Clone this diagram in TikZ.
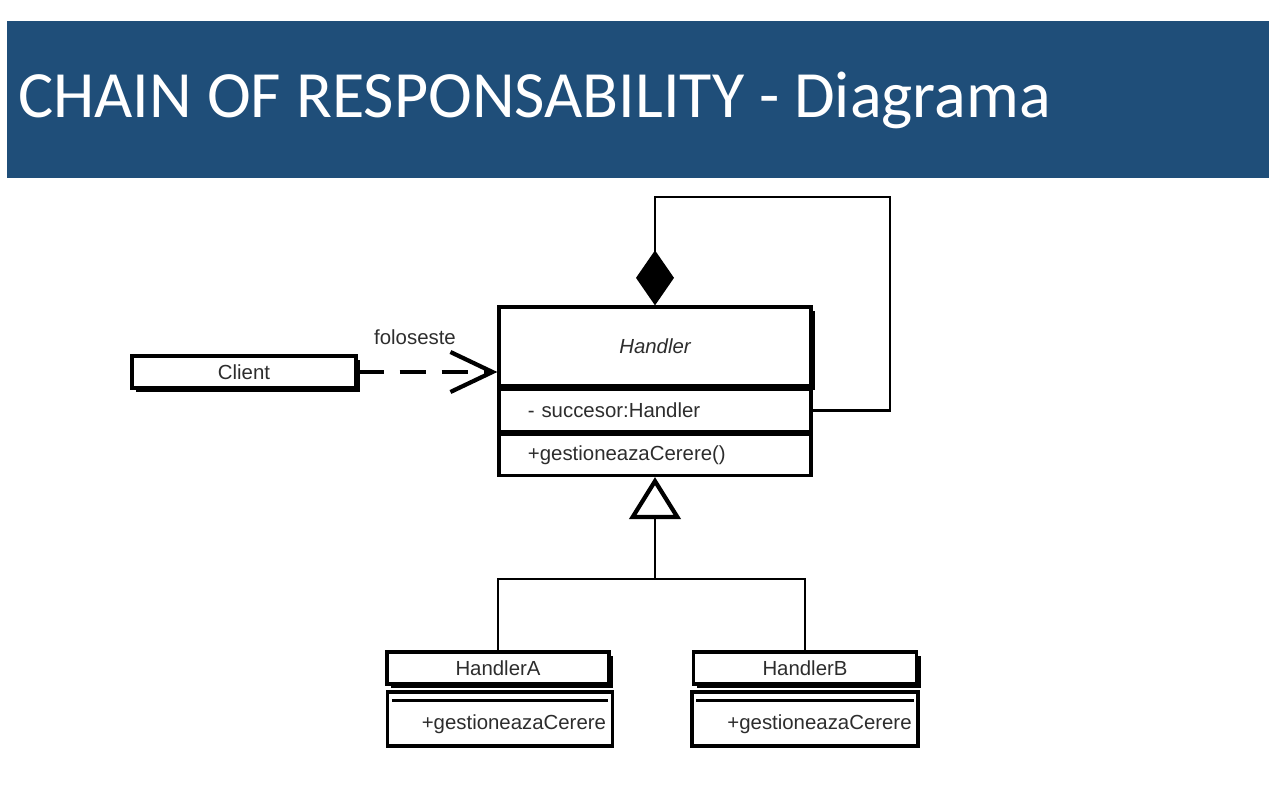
\documentclass[tikz,border=0pt]{standalone}
\usepackage{fontspec}
\setmainfont{Liberation Sans}
\newfontfamily\titlefont{Carlito}
\usetikzlibrary{arrows.meta,positioning,shadows}
\definecolor{headblue}{RGB}{31,78,121}
\definecolor{inkgray}{RGB}{45,45,45}
\tikzset{
	umlbox/.style={draw, fill=white, line width=2.3pt, inner sep=0pt, text=inkgray, font=\fontsize{14.5}{17}\selectfont},
	shadowbox/.style={umlbox, drop shadow={shadow xshift=0.1cm, shadow yshift=-0.11cm, fill=black, opacity=1}},
	link/.style={line width=2pt},
}

\begin{document}
\begin{tikzpicture}[x=0.025cm, y=-0.025cm]
		%%%%% START %%%%%
		\useasboundingbox (0,0) rectangle (1277,786);
		
		\fill[headblue] (7,21) rectangle (1269,178);
		\node[anchor=base west, text=white, inner sep=0pt, font=\titlefont\fontsize{47}{50}\selectfont] (title) at (18,118) {CHAIN OF RESPONSABILITY - Diagrama};
		
		% Handler class
		\node[shadowbox, minimum width=7.8cm, minimum height=1.975cm, font=\fontsize{14.5}{17}\selectfont\itshape] (hname) at (655,346.5) {Handler};
		\node[umlbox, below=0pt of hname, minimum height=1.05cm, text width=6.35cm, inner xsep=0.725cm, align=left] (hattr) {- succesor:Handler};
		\node[umlbox, below=0pt of hattr, minimum height=1.025cm, text width=6.35cm, inner xsep=0.725cm, align=left] (hmeth) {+gestioneazaCerere()};
		
		% Client
		\node[shadowbox, minimum width=5.6cm, minimum height=0.8cm] (client) at (244,372) {Client};
		\draw[link, line width=2.6pt, dash pattern=on 0.65cm off 0.4cm, -{Straight Barb[length=1.05cm, width=1cm, line width=3pt]}] (client.east) -- (client.east -| hname.west);
		\node[text=inkgray, font=\fontsize{14.5}{17}\selectfont] (uses) at (415,337) {foloseste};
		
		% succesor link
		\coordinate (loop) at (890,197);
		\draw[link, -{Diamond[length=1.375cm, width=0.95cm]}] (hattr.east) -| (loop) -| (hname.north);
		
		% concrete handlers
		\node[shadowbox, minimum width=5.55cm, minimum height=0.8cm] (hAn) at (498,668) {HandlerA};
		\node[umlbox, minimum width=5.625cm, minimum height=1.35cm, text width=5.3cm, text height=0.5cm, text depth=0cm, inner xsep=0.16cm, align=right] (hAm) at (500,719) {+gestioneazaCerere};
		\draw[link, line width=2.4pt] ([shift={(0.15cm,-0.25cm)}]hAm.north west) -- ([shift={(-0.15cm,-0.25cm)}]hAm.north east);
		
		\node[shadowbox, minimum width=5.575cm, minimum height=0.8cm] (hBn) at (805,668) {HandlerB};
		\node[umlbox, minimum width=5.65cm, minimum height=1.35cm, text width=5.33cm, text height=0.5cm, text depth=0cm, inner xsep=0.16cm, align=right] (hBm) at (805,719) {+gestioneazaCerere};
		\draw[link, line width=2.4pt] ([shift={(0.15cm,-0.25cm)}]hBm.north west) -- ([shift={(-0.15cm,-0.25cm)}]hBm.north east);
		
		% inheritance
		\coordinate (fork) at (655,579);
		\draw[link, -{Triangle[open, length=1.05cm, width=1.28cm, line width=3pt]}] (fork) -- (hmeth.south);
		\draw[link] (hAn.north) |- (fork) -| (hBn.north);
		
		%%%%% END %%%%%
\end{tikzpicture}
\end{document}
